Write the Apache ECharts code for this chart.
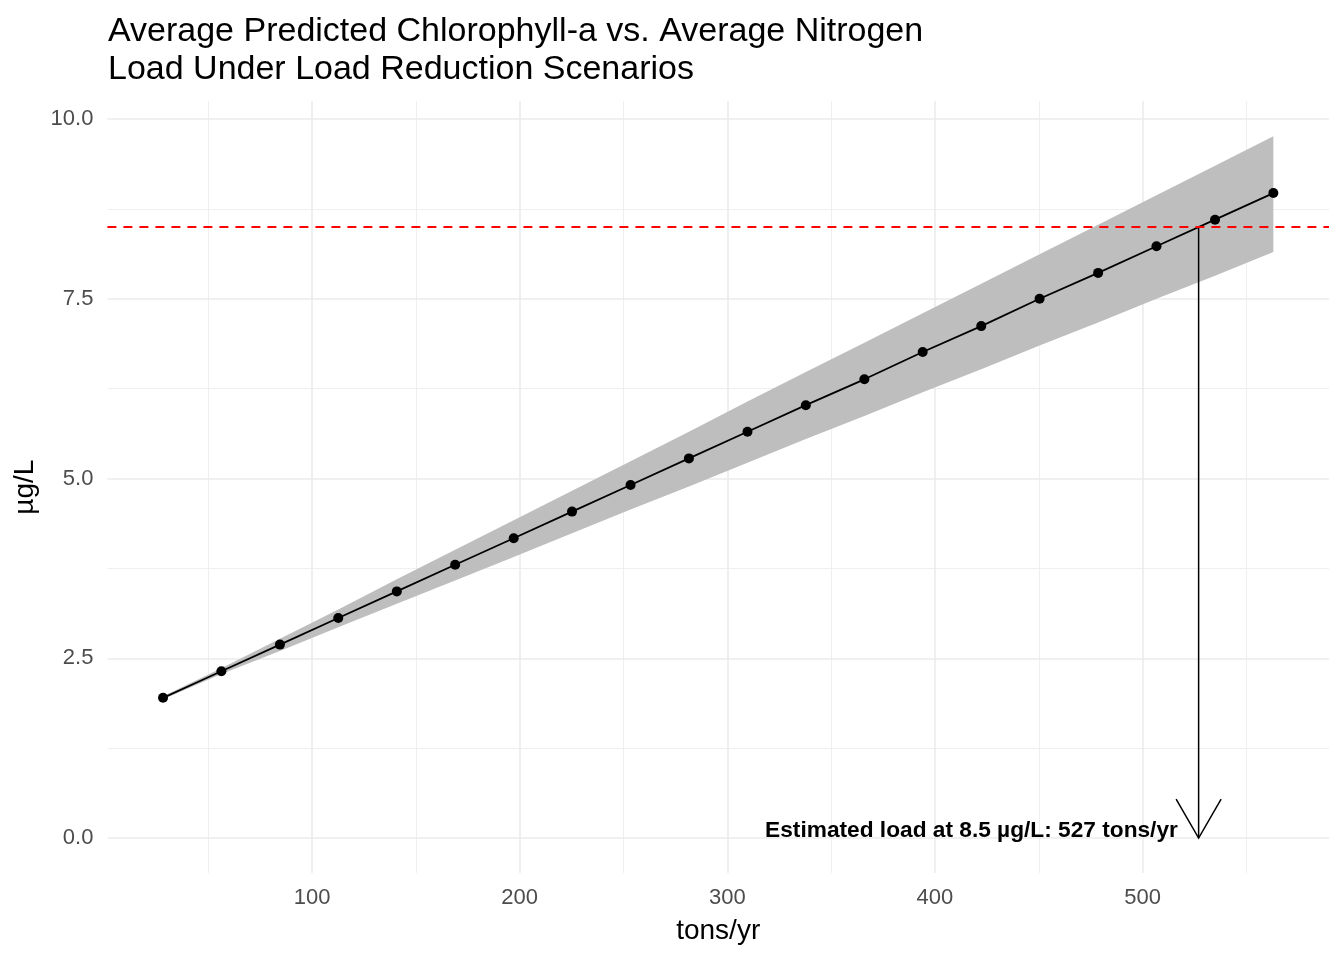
<!DOCTYPE html>
<html>
<head>
<meta charset="utf-8">
<script src="https://cdn.jsdelivr.net/npm/echarts@6/dist/echarts.min.js"></script>
<style>html,body{margin:0;padding:0;background:#fff}#c{width:1344px;height:960px}</style>
</head>
<body>
<div id="c"></div>
<script>
// ---- data ----
var loads = [28.2, 56.3, 84.5, 112.6, 140.8, 168.9, 197.1, 225.2, 253.4, 281.5, 309.7, 337.8, 366.0, 394.1, 422.3, 450.4, 478.6, 506.7, 534.9, 563.0];
var chla  = [1.95, 2.32, 2.69, 3.06, 3.43, 3.80, 4.17, 4.54, 4.91, 5.28, 5.65, 6.02, 6.38, 6.76, 7.12, 7.50, 7.86, 8.23, 8.60, 8.97];
var lower = [1.93, 2.28, 2.60, 2.93, 3.26, 3.58, 3.91, 4.24, 4.57, 4.89, 5.22, 5.55, 5.87, 6.20, 6.52, 6.85, 7.17, 7.50, 7.82, 8.15];
var upper = [1.97, 2.36, 2.77, 3.18, 3.60, 4.01, 4.42, 4.83, 5.24, 5.65, 6.07, 6.48, 6.89, 7.30, 7.71, 8.12, 8.53, 8.94, 9.35, 9.76];
var xTicks = [100, 200, 300, 400, 500];
var xMinor = [50, 150, 250, 350, 450, 550];
var yTicks = [0, 2.5, 5, 7.5, 10];
var yMinor = [1.25, 3.75, 6.25, 8.75];
var target = 8.5;
var estLoad = 527;
var labelText = 'Estimated load at 8.5 µg/L: 527 tons/yr';
var labelX = 517;

var FONT = "'Liberation Sans', Arial, sans-serif";
var chart = echarts.init(document.getElementById('c'), null, {renderer: 'canvas'});

var mainPts = loads.map(function (x, i) { return [x, chla[i]]; });
var bandRows = loads.map(function (x, i) { return [x, lower[i], upper[i]]; });

var gridMarks = []
  .concat(xMinor.map(function (v) { return {xAxis: v, lineStyle: {width: 0.8}}; }))
  .concat(yMinor.map(function (v) { return {yAxis: v, lineStyle: {width: 0.8}}; }))
  .concat(xTicks.map(function (v) { return {xAxis: v, lineStyle: {width: 1.6}}; }))
  .concat(yTicks.map(function (v) { return {yAxis: v, lineStyle: {width: 1.6}}; }));

chart.setOption({
  animation: false,
  backgroundColor: '#ffffff',
  textStyle: {fontFamily: FONT},
  title: {
    text: 'Average Predicted Chlorophyll-a vs. Average Nitrogen\nLoad Under Load Reduction Scenarios',
    left: 103, top: 8,
    textStyle: {fontFamily: FONT, fontSize: 34, fontWeight: 'normal', color: '#000', lineHeight: 38}
  },
  grid: {left: 107.4, right: 15, top: 101.2, bottom: 86.9, containLabel: false},
  xAxis: {
    type: 'value', min: 1.4, max: 589.8,
    name: 'tons/yr', nameLocation: 'middle', nameGap: 44,
    nameTextStyle: {fontFamily: FONT, fontSize: 28, color: '#000'},
    axisLine: {show: false}, axisTick: {show: false}, splitLine: {show: false},
    axisLabel: {customValues: xTicks, fontFamily: FONT, fontSize: 22, color: '#4D4D4D', margin: 14}
  },
  yAxis: {
    type: 'value', min: -0.488, max: 10.248,
    name: 'µg/L', nameLocation: 'middle', nameGap: 64, nameRotate: 90,
    nameTextStyle: {fontFamily: FONT, fontSize: 28, color: '#000'},
    axisLine: {show: false}, axisTick: {show: false}, splitLine: {show: false},
    axisLabel: {customValues: yTicks, fontFamily: FONT, fontSize: 22, color: '#4D4D4D', margin: 14,
      formatter: function (v) { return v.toFixed(1); }}
  },
  series: [
    {
      type: 'line', data: mainPts, symbol: 'none', lineStyle: {opacity: 0}, z: 0, silent: true,
      markLine: {silent: true, symbol: 'none', label: {show: false},
        lineStyle: {color: '#EBEBEB', type: 'solid'}, data: gridMarks, z: 0}
    },
    {
      type: 'custom', z: 1, silent: true,
      data: bandRows,
      renderItem: function (params, api) {
        if (params.dataIndex !== 0) return null;
        var top = [], bot = [];
        for (var i = 0; i < bandRows.length; i++) {
          top.push(api.coord([bandRows[i][0], bandRows[i][2]]));
          bot.unshift(api.coord([bandRows[i][0], bandRows[i][1]]));
        }
        return {type: 'polygon', shape: {points: top.concat(bot)}, style: {fill: '#BEBEBE', stroke: null}};
      }
    },
    {
      type: 'line', data: mainPts, symbol: 'circle', symbolSize: 10, z: 3,
      itemStyle: {color: '#000'}, lineStyle: {color: '#000', width: 1.8},
      markLine: {silent: true, symbol: 'none', label: {show: false},
        lineStyle: {color: '#FF0000', type: [9, 7], width: 1.8},
        data: [{yAxis: target}]}
    },
    {
      type: 'custom', z: 4, silent: true,
      data: [[estLoad, target, 0]],
      renderItem: function (params, api) {
        var top = api.coord([api.value(0), api.value(1)]);
        var tip = api.coord([api.value(0), api.value(2)]);
        var ls = {stroke: '#000', lineWidth: 1.5, fill: null};
        return {type: 'group', children: [
          {type: 'line', shape: {x1: top[0], y1: top[1], x2: tip[0], y2: tip[1]}, style: ls},
          {type: 'polyline', shape: {points: [[tip[0] - 22.5, tip[1] - 39], [tip[0], tip[1]], [tip[0] + 22.5, tip[1] - 39]]}, style: ls}
        ]};
      }
    },
    {
      type: 'custom', z: 5, silent: true,
      data: [[labelX, 0]],
      renderItem: function (params, api) {
        var p = api.coord([api.value(0), api.value(1)]);
        return {type: 'text', x: p[0], y: p[1] + 4, style: {
          text: labelText, fill: '#000', font: 'bold 22.7px ' + FONT,
          align: 'right', verticalAlign: 'bottom'}};
      }
    }
  ]
});
</script>
</body>
</html>
